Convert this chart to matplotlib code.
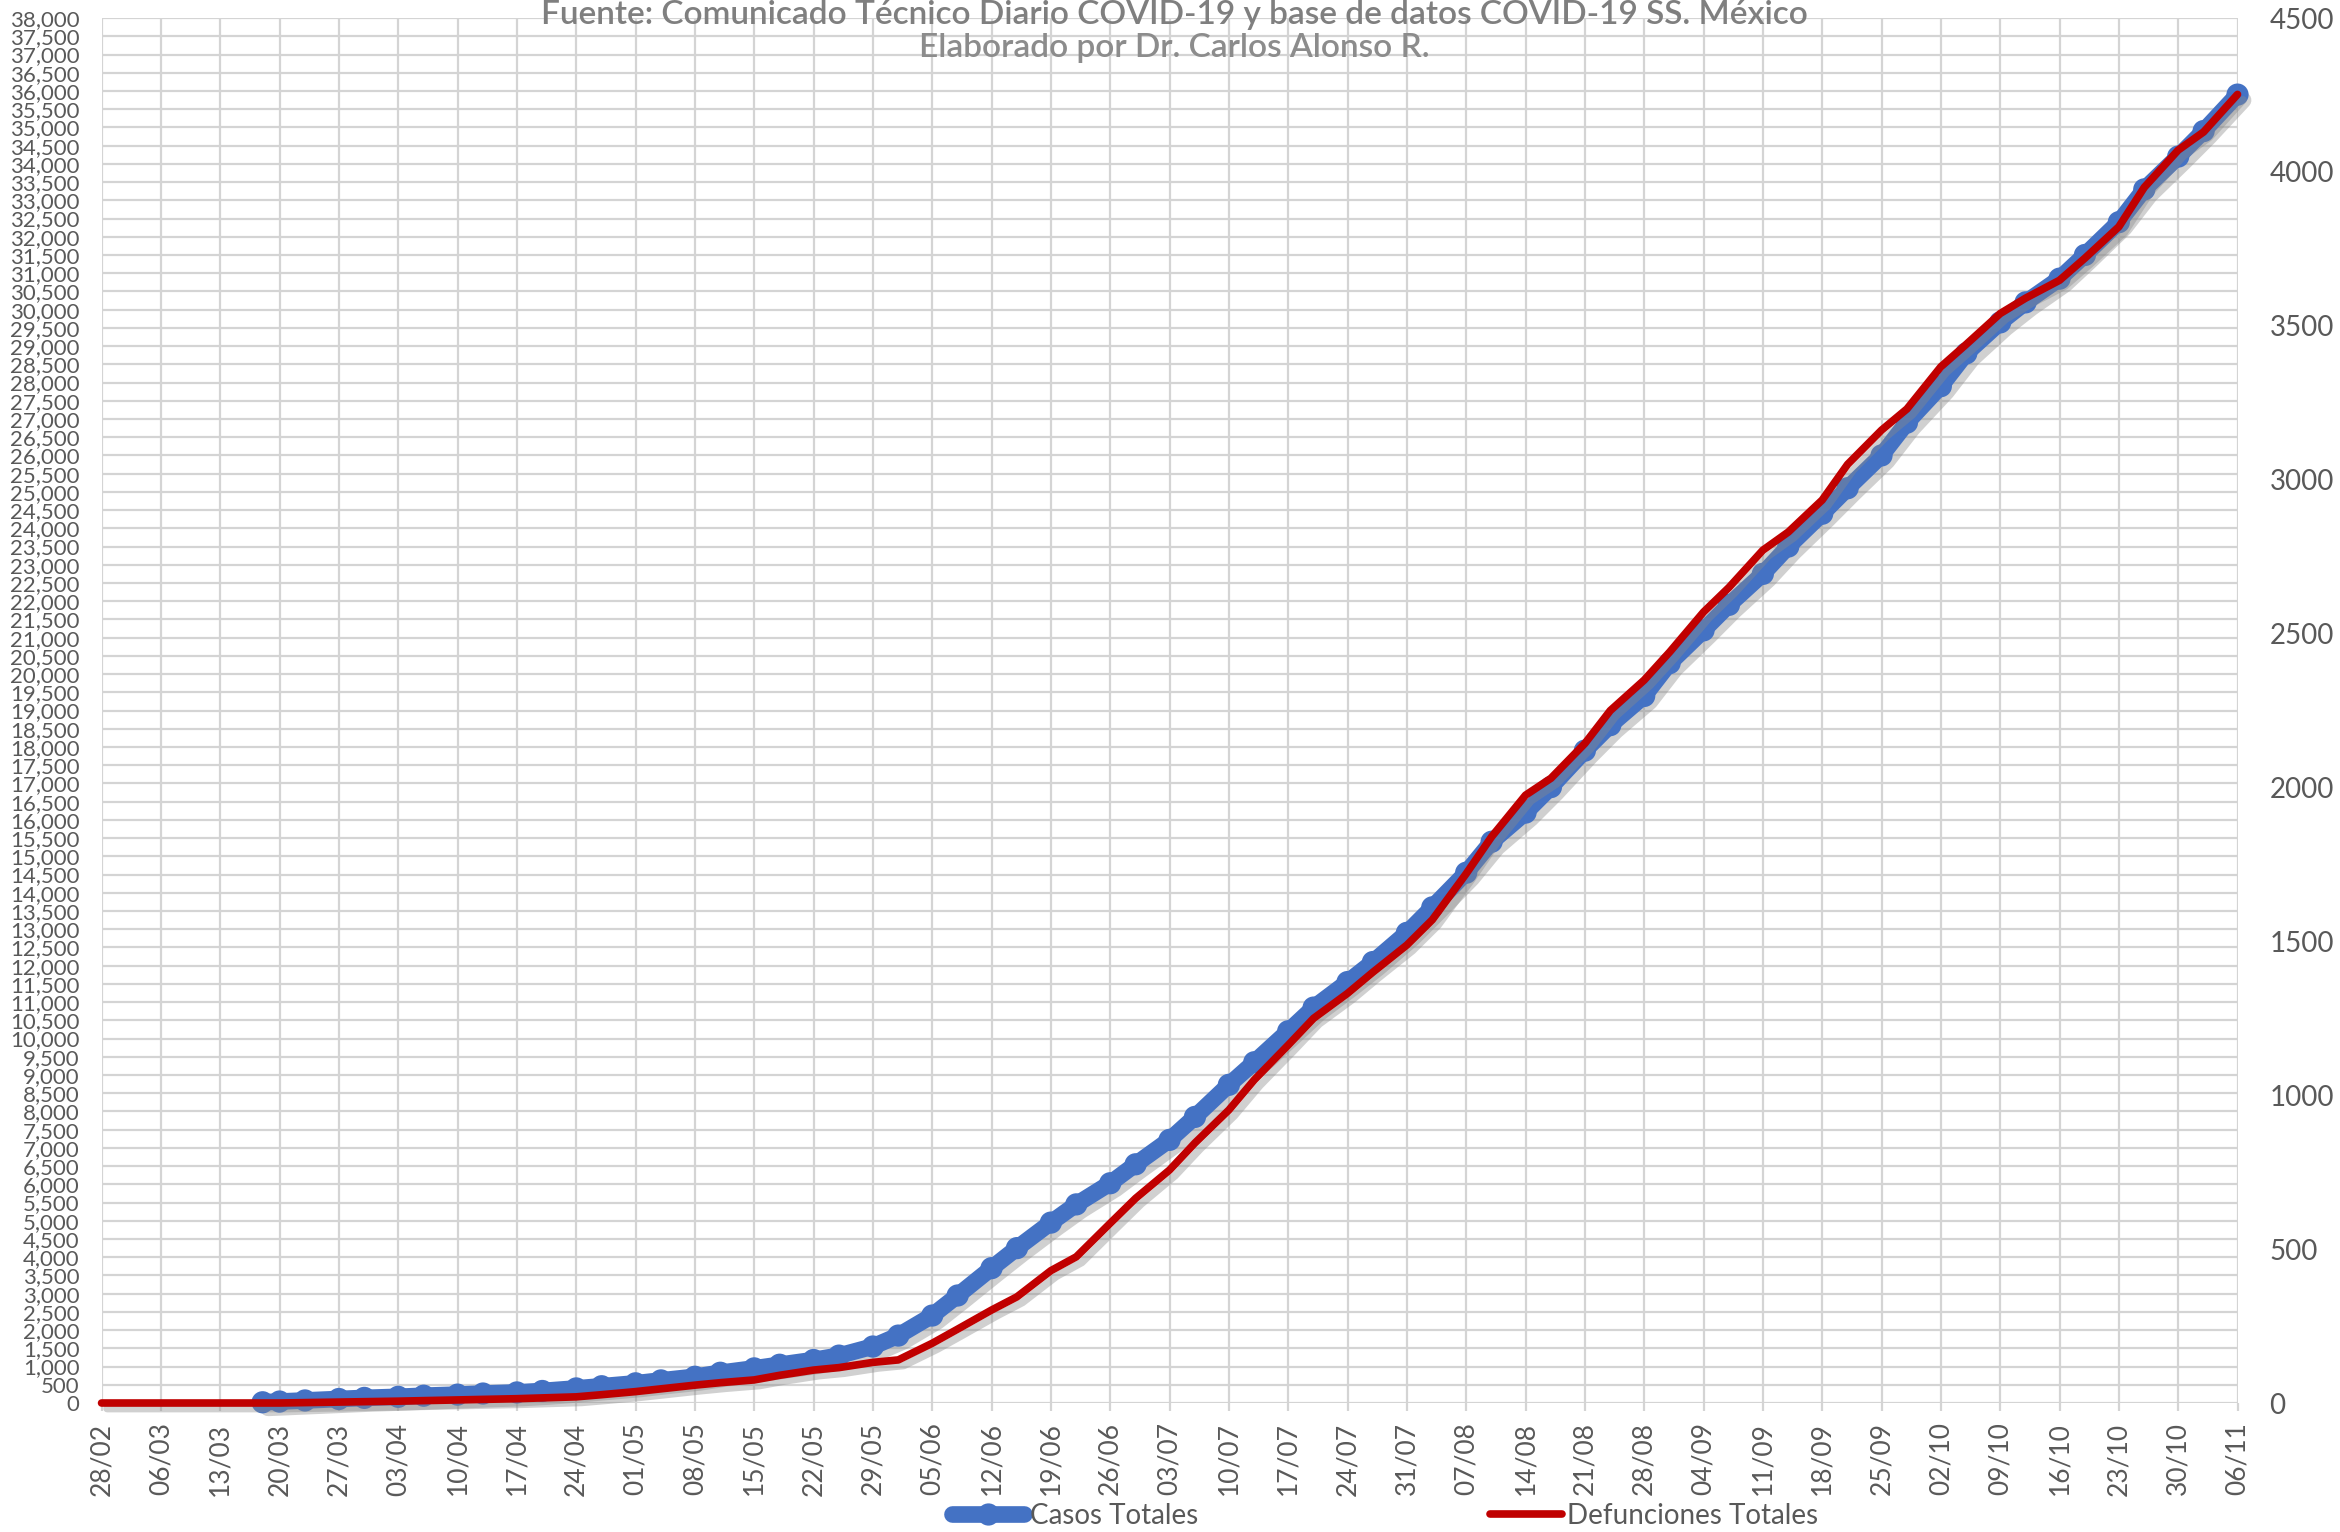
import numpy as np
import matplotlib
matplotlib.use("Agg")
import matplotlib.pyplot as plt
import matplotlib.dates as mdates
import matplotlib.patheffects as pe
from matplotlib.ticker import FuncFormatter, MultipleLocator

plt.rcParams['font.family'] = ['Lato', 'DejaVu Sans']

# Casos totales (eje izquierdo)
casos_fechas = ['2020-03-18', '2020-03-20', '2020-03-23', '2020-03-27', '2020-03-30',
                '2020-04-03', '2020-04-06', '2020-04-10', '2020-04-13', '2020-04-17',
                '2020-04-20', '2020-04-24', '2020-04-27', '2020-05-01', '2020-05-04',
                '2020-05-08', '2020-05-11', '2020-05-15', '2020-05-18', '2020-05-22',
                '2020-05-25', '2020-05-29', '2020-06-01', '2020-06-05', '2020-06-08',
                '2020-06-12', '2020-06-15', '2020-06-19', '2020-06-22', '2020-06-26',
                '2020-06-29', '2020-07-03', '2020-07-06', '2020-07-10', '2020-07-13',
                '2020-07-17', '2020-07-20', '2020-07-24', '2020-07-27', '2020-07-31',
                '2020-08-03', '2020-08-07', '2020-08-10', '2020-08-14', '2020-08-17',
                '2020-08-21', '2020-08-24', '2020-08-28', '2020-08-31', '2020-09-04',
                '2020-09-07', '2020-09-11', '2020-09-14', '2020-09-18', '2020-09-21',
                '2020-09-25', '2020-09-28', '2020-10-02', '2020-10-05', '2020-10-09',
                '2020-10-12', '2020-10-16', '2020-10-19', '2020-10-23', '2020-10-26',
                '2020-10-30', '2020-11-02', '2020-11-06']
casos_totales = [20, 40, 70, 110, 140,
                 170, 200, 230, 260, 290,
                 330, 400, 460, 540, 620,
                 720, 830, 950, 1050, 1180,
                 1300, 1550, 1850, 2400, 2950,
                 3700, 4250, 4950, 5450, 6030,
                 6550, 7220, 7850, 8730, 9350,
                 10200, 10850, 11550, 12100, 12900,
                 13600, 14550, 15400, 16200, 16900,
                 17900, 18600, 19400, 20300, 21200,
                 21900, 22750, 23500, 24400, 25100,
                 26000, 26900, 27900, 28800, 29650,
                 30200, 30850, 31500, 32400, 33300,
                 34200, 34900, 35900]

# Defunciones totales (eje derecho)
defun_fechas = ['2020-02-28', '2020-03-06', '2020-03-13', '2020-03-20', '2020-03-27',
                '2020-04-03', '2020-04-10', '2020-04-17', '2020-04-24', '2020-04-27',
                '2020-05-01', '2020-05-04', '2020-05-08', '2020-05-11', '2020-05-15',
                '2020-05-18', '2020-05-22', '2020-05-25', '2020-05-29', '2020-06-01',
                '2020-06-05', '2020-06-08', '2020-06-12', '2020-06-15', '2020-06-19',
                '2020-06-22', '2020-06-26', '2020-06-29', '2020-07-03', '2020-07-06',
                '2020-07-10', '2020-07-13', '2020-07-17', '2020-07-20', '2020-07-24',
                '2020-07-27', '2020-07-31', '2020-08-03', '2020-08-07', '2020-08-10',
                '2020-08-14', '2020-08-17', '2020-08-21', '2020-08-24', '2020-08-28',
                '2020-08-31', '2020-09-04', '2020-09-07', '2020-09-11', '2020-09-14',
                '2020-09-18', '2020-09-21', '2020-09-25', '2020-09-28', '2020-10-02',
                '2020-10-05', '2020-10-09', '2020-10-12', '2020-10-16', '2020-10-19',
                '2020-10-23', '2020-10-26', '2020-10-30', '2020-11-02', '2020-11-06']
defunciones_totales = [0, 0, 0, 0, 3,
                       6, 10, 14, 20, 27,
                       37, 46, 58, 66, 75,
                       90, 107, 115, 132, 140,
                       194, 240, 302, 345, 430,
                       475, 584, 665, 757, 845,
                       952, 1050, 1163, 1250, 1331,
                       1400, 1488, 1570, 1720, 1840,
                       1975, 2030, 2143, 2250, 2349,
                       2440, 2570, 2650, 2771, 2830,
                       2934, 3050, 3161, 3230, 3367,
                       3440, 3540, 3590, 3648, 3720,
                       3822, 3950, 4071, 4130, 4252]

titulo_1 = "Fuente: Comunicado Técnico Diario COVID-19 y base de datos COVID-19 SS. México"
titulo_2 = "Elaborado por Dr. Carlos Alonso R."

AZUL = '#4472C4'
ROJO = '#C00000'
GRIS_TXT = '#595959'
GRIS_GRID = '#d4d4d4'

fig = plt.figure(figsize=(23.4, 15.32), dpi=100)
ax = fig.add_axes([0.0434, 0.0842, 0.9128, 0.9040])
ax2 = ax.twinx()

x_casos = np.array(casos_fechas, dtype='datetime64[D]')
x_defun = np.array(defun_fechas, dtype='datetime64[D]')

sombra = [pe.SimpleLineShadow(offset=(4, -4), shadow_color='#8a8a8a', alpha=0.4), pe.Normal()]

ax.plot(x_casos, casos_totales, color=AZUL, lw=12, marker='o', ms=16, mew=0,
        solid_capstyle='round', solid_joinstyle='round', clip_on=False, zorder=3,
        path_effects=sombra, label='Casos Totales')
ax2.plot(x_defun, defunciones_totales, color=ROJO, lw=5.5,
         solid_capstyle='round', solid_joinstyle='round', clip_on=False, zorder=3,
         path_effects=sombra, label='Defunciones Totales')

inicio = np.datetime64('2020-02-28')
fin = np.datetime64('2020-11-06')
ticks_x = np.arange(inicio, fin + np.timedelta64(1, 'D'), np.timedelta64(7, 'D'))
ax.set_xlim(inicio, fin)
ax.set_xticks(ticks_x)
ax.xaxis.set_major_formatter(mdates.DateFormatter('%d/%m'))

ax.set_ylim(0, 38000)
ax.yaxis.set_major_locator(MultipleLocator(500))
ax.yaxis.set_major_formatter(FuncFormatter(lambda v, p: f"{int(v):,}"))
ax2.set_ylim(0, 4500)
ax2.yaxis.set_major_locator(MultipleLocator(500))

ax.grid(True, color=GRIS_GRID, lw=1.6)
ax.set_axisbelow(True)
for a in (ax, ax2):
    for s in a.spines.values():
        s.set_visible(False)

ax.tick_params(axis='x', labelsize=19, colors=GRIS_TXT, rotation=90, length=6,
               width=1.6, color=GRIS_GRID, pad=8)
ax.tick_params(axis='y', labelsize=16, colors=GRIS_TXT, length=0, pad=16)
ax2.tick_params(axis='y', labelsize=20, colors=GRIS_TXT, length=0, pad=23)

fig.text(0.502, 1.0, titulo_1, ha='center', va='top',
         fontsize=24, color='#7f7f7f', fontweight='semibold')
fig.text(0.502, 1.0 - 48 / 1532, titulo_2, ha='center', va='center',
         fontsize=24, color='#8c8c8c', fontweight='semibold')

h1, l1 = ax.get_legend_handles_labels()
h2, l2 = ax2.get_legend_handles_labels()
leg = fig.legend(h1 + h2, l1 + l2, loc='center', bbox_to_anchor=(0.592, 0.0105),
                 ncol=2, frameon=False, fontsize=20, handlelength=2.6,
                 handletextpad=0.2, columnspacing=10.5, labelcolor=GRIS_TXT)
for lh in leg.legend_handles:
    lh.set_path_effects([])

fig.savefig('out.png', dpi=100, facecolor='white')
